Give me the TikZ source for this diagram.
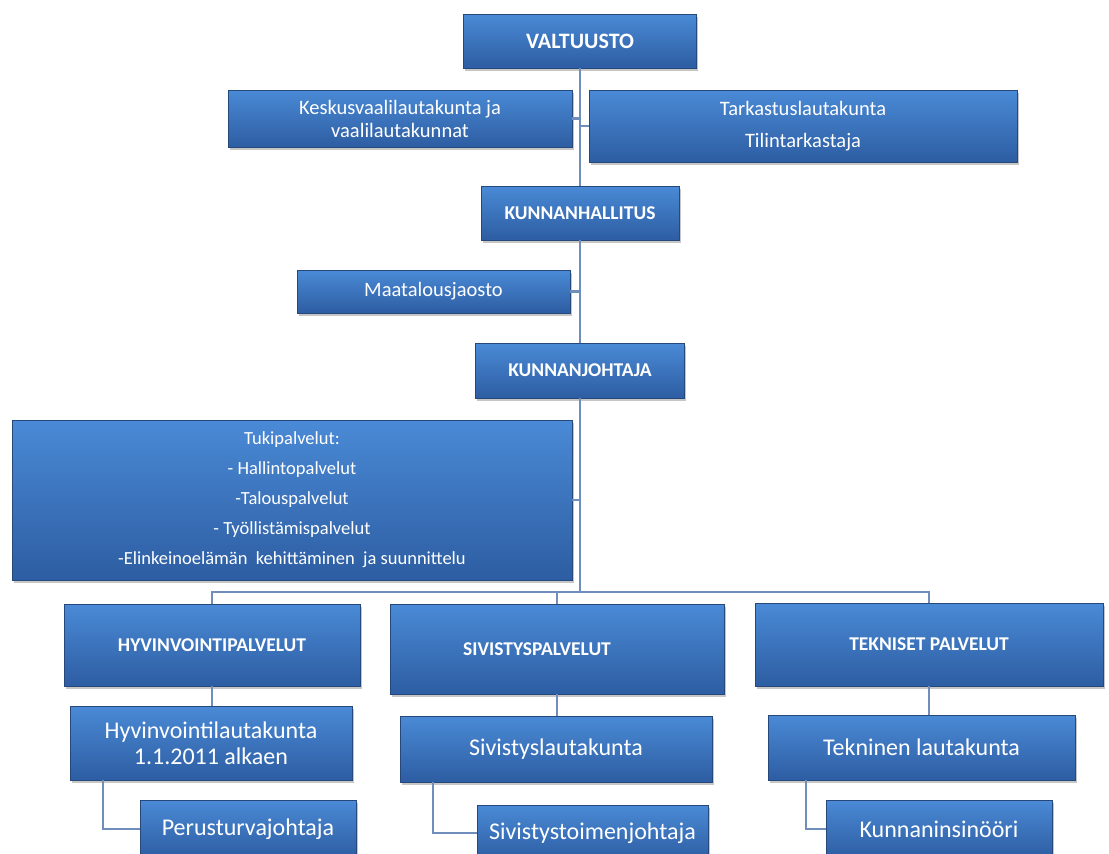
\documentclass[tikz,border=0pt]{standalone}
\usepackage{fontspec}
\setmainfont{Carlito}
\usetikzlibrary{shadows}
\definecolor{box-top}{RGB}{74, 138, 214}
\definecolor{box-bottom}{RGB}{45, 93, 162}
\definecolor{box-edge}{RGB}{38, 72, 122}
\definecolor{link-blue}{RGB}{112, 142, 188}
\tikzset{
  orgbox/.style={draw=box-edge, line width=0.6pt, top color=box-top, bottom color=box-bottom,
    text=white, align=center, inner sep=2pt,
    drop shadow={shadow xshift=1.5pt, shadow yshift=-2.5pt, opacity=0.45}},
  headbox/.style={orgbox, font=\bfseries\fontsize{19.5}{22}\selectfont},
  smallbox/.style={orgbox, font=\fontsize{20.5}{23}\selectfont},
  bigbox/.style={orgbox, font=\fontsize{24}{26}\selectfont},
  link/.style={draw=link-blue, line width=2.2pt}
}
\begin{document}
\begin{tikzpicture}[x=1pt, y=-1pt]
\useasboundingbox (0,0) rectangle (1109,854);
% toimielimet
\node[headbox, minimum width=233pt, minimum height=54pt, font=\bfseries\fontsize{22}{24}\selectfont] (valtuusto) at (580,41) {VALTUUSTO};
\node[smallbox, minimum width=344pt, minimum height=57pt] (keskus) at (400,118.5) {Keskusvaalilautakunta ja\\vaalilautakunnat};
\node[smallbox, minimum width=428pt, minimum height=72pt, font=\fontsize{20.5}{32}\selectfont] (tarkastus) at (803,126) {Tarkastuslautakunta\\Tilintarkastaja};
\node[headbox, minimum width=198pt, minimum height=54pt] (hallitus) at (580,213) {KUNNANHALLITUS};
\node[smallbox, minimum width=273pt, minimum height=43pt] (maatalous) at (433.5,291.5) {Maatalousjaosto};
\node[headbox, minimum width=209pt, minimum height=55pt] (johtaja) at (580,370.5) {KUNNANJOHTAJA};
\node[smallbox, minimum width=560pt, minimum height=160pt, font=\fontsize{18.5}{30}\selectfont] (tuki) at (292,500) {Tukipalvelut:\\- Hallintopalvelut\\-Talouspalvelut\\- Työllistämispalvelut\\-Elinkeinoelämän\ \ kehittäminen\ \ ja suunnittelu};
% palvelualueet
\node[headbox, minimum width=296pt, minimum height=82pt] (hyvinvointi) at (212,645) {HYVINVOINTIPALVELUT};
\node[headbox, minimum width=334pt, minimum height=90pt] (sivistys) at (557,649) {SIVISTYSPALVELUT\hspace*{40pt}};
\node[headbox, minimum width=348pt, minimum height=83pt] (tekniset) at (929,644.5) {TEKNISET PALVELUT};
\node[bigbox, minimum width=282pt, minimum height=74pt] (hlauta) at (211,743) {Hyvinvointilautakunta\\1.1.2011 alkaen};
\node[bigbox, minimum width=312pt, minimum height=66pt] (slauta) at (556,749) {Sivistyslautakunta};
\node[bigbox, minimum width=307pt, minimum height=65pt] (tlauta) at (921.5,747.5) {Tekninen lautakunta};
\node[bigbox, minimum width=216pt, minimum height=58pt] (perus) at (248,829) {Perusturvajohtaja};
\node[bigbox, minimum width=231pt, minimum height=56pt] (sivtoimen) at (592.5,833) {Sivistystoimenjohtaja};
\node[bigbox, minimum width=226pt, minimum height=58pt] (insinoori) at (939,829) {Kunnaninsinööri};
% yhteydet
\coordinate (haara) at (580,592);
\begin{scope}[on background layer/.try]
\draw[link] (valtuusto.south) -- (hallitus.north);
\draw[link] (hallitus.south) -- (johtaja.north);
\draw[link] (johtaja.south) -- (haara);
\draw[link] (keskus.east) -- (keskus.east -| valtuusto.south);
\draw[link] (tarkastus.west) -- (tarkastus.west -| valtuusto.south);
\draw[link] (maatalous.east) -- (maatalous.east -| hallitus.south);
\draw[link] (tuki.east) -- (tuki.east -| johtaja.south);
\draw[link] (hyvinvointi.north) |- (haara) -| (tekniset.north);
\draw[link] (sivistys.north) -- (sivistys.north |- haara);
\draw[link] (hyvinvointi.south) -- (hyvinvointi.south |- hlauta.north);
\draw[link] (sivistys.south) -- (sivistys.south |- slauta.north);
\draw[link] (tekniset.south) -- (tekniset.south |- tlauta.north);
\draw[link] (hlauta.south west) ++(33,0) |- (perus.west);
\draw[link] (slauta.south west) ++(33,0) |- (sivtoimen.west);
\draw[link] (tlauta.south west) ++(38,0) |- (insinoori.west);
\end{scope}
\end{tikzpicture}
\end{document}
